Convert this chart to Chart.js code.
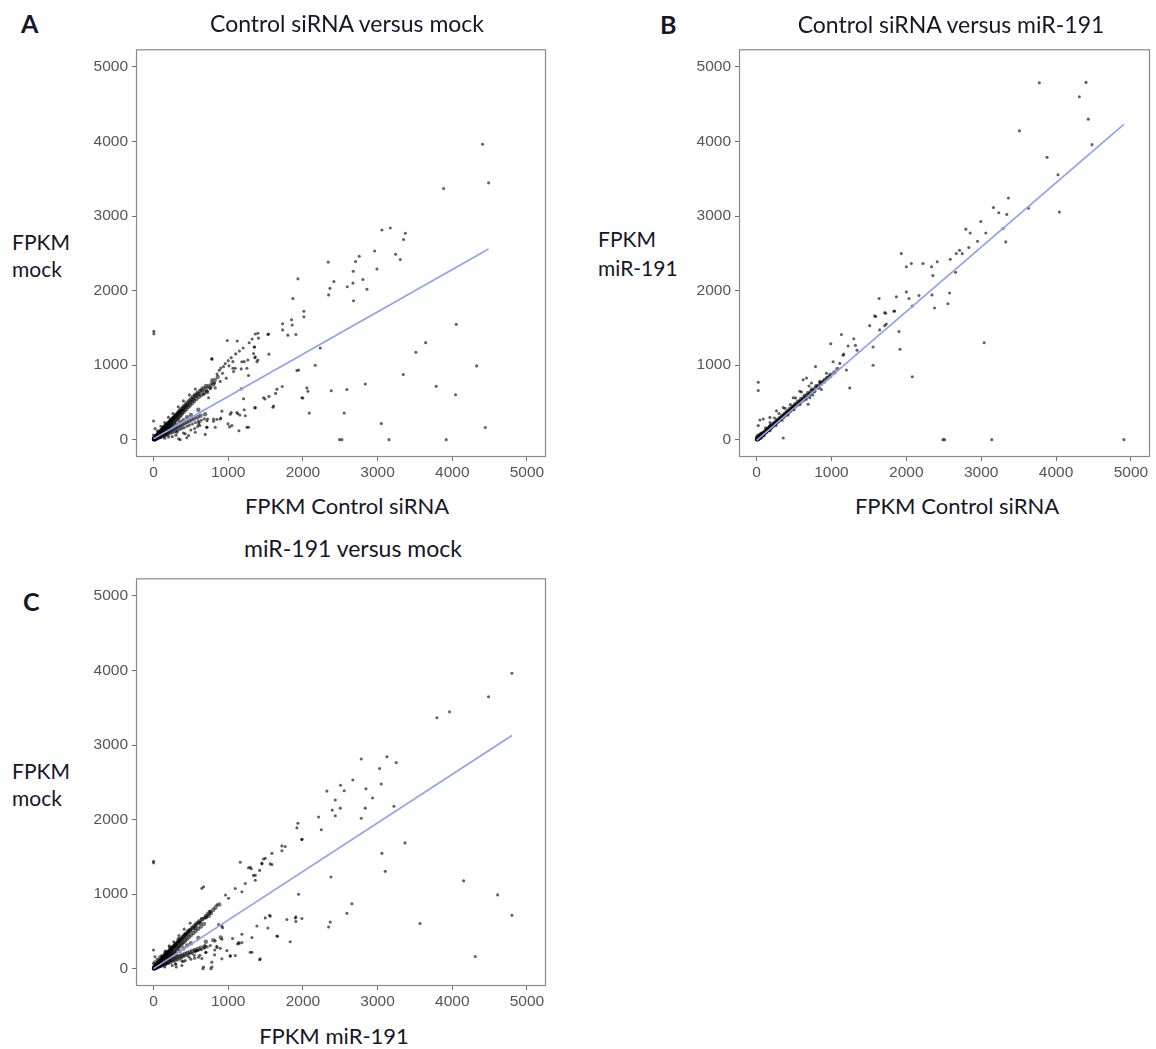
<!DOCTYPE html>
<html>
<head>
<meta charset="utf-8">
<script src="https://cdn.jsdelivr.net/npm/chart.js@4.4.0/dist/chart.umd.min.js"></script>
<style>
  html, body { margin:0; padding:0; background:#fff; }
  #root { position:relative; width:1156px; height:1049px; overflow:hidden; background:#fff; }
  canvas { position:absolute; }
  .t { position:absolute; font-family:Lato, "Open Sans", sans-serif; color:#161628; white-space:nowrap; line-height:1; }
</style>
</head>
<body>
<div id="root">
  <canvas id="cA" width="474" height="456" style="left:76px;top:36px;"></canvas>
  <canvas id="cB" width="475" height="456" style="left:679px;top:36px;"></canvas>
  <canvas id="cC" width="474" height="456" style="left:76px;top:565px;"></canvas>
</div>
<script>
// ---------------- DATA ----------------
const tickValues = [0, 1000, 2000, 3000, 4000, 5000];

const panelTitles = ["Control siRNA versus mock", "Control siRNA versus miR-191", "miR-191 versus mock"];
const panelLetters = ["A", "B", "C"];
const xTitles = ["FPKM Control siRNA", "FPKM Control siRNA", "FPKM miR-191"];
const yTitles = [["FPKM", "mock"], ["FPKM", "miR-191"], ["FPKM", "mock"]];

// Panel A: FPKM Control siRNA (x) vs FPKM mock (y)
const pointsA = [
  [4406,3963],[4486,3445],[3884,3370],[3058,2812],[3170,2839],[3371,2768],[3348,2685],[2960,2531],[3241,2487],[3303,2417],
  [2754,2461],[2705,2390],[2674,2259],[2991,2289],[2339,2382],[1933,2157],[2415,2122],[2362,2030],[2344,1942],[2594,2052],
  [2670,2100],[2803,2149],[2857,2017],[2678,1863],[1866,1894],[2013,1722],[2013,1648],[1848,1608],[1857,1538],[1728,1555],
  [1728,1472],[1799,1402],[1906,1410],[1397,1428],[1531,1410],[1406,1362],[2232,1230],[1545,1147],[987,1331],[1121,1323],
  [1353,1243],[1339,1156],[1357,1099],[1397,1068],[1214,1046],[1263,1068],[781,1077],[1062,1046],[1062,958],[1174,949],
  [1272,861],[4,1454],[4,1419],[4053,1547],[3643,1301],[3513,1173],[4326,989],[3344,874],[3785,716],[4044,602],
  [4442,163],[3919,0],[3152,0],[2522,0],[2491,0],[3049,215],[2553,356],[2085,356],[2835,747],[2589,672],
  [2379,655],[2165,997],[1920,927],[2053,694],[2067,650],[2000,558],[1723,712],[1652,677],[1634,620],[1545,580],
  [1491,545],[1598,435],[1357,426],[1205,549],[1174,681],[1214,400],[1272,167],[1143,119],[1040,365],[1129,347],
  [1156,330],[996,211],[1018,171],[915,382],[902,290],[848,272],[804,246],[723,277],[714,167],[692,70],
  [589,176],[612,233],[446,26],[357,0],
  [924,891],[973,825],[893,781],[817,759],[759,685],[826,694],[714,650],[670,606],[737,562],[937,979],
  [781,803],[1094,957],[1072,913],[1250,957],[1183,1045],[1384,1045],[1362,1111],[781,1089],[1540,1418],[1362,1418],
  [1348,1242],[850,880],[880,930],[960,1020],[1000,1060],[1040,1100],[1100,1150],[1150,1190],[1200,1230],[1280,1300],
  [1320,1350],[1010,990],[900,960],
  [1473,562],[1607,452],[1942,935],[1987,562],[1362,430],[1228,320],[1116,364],[1027,342],[893,276],[803,276],
  [1049,188],[1250,166],[826,166],[714,254],[714,166],[603,210],[558,100],[469,56],[424,78],[335,12],[313,100],[201,35],[157,78],
  [40,10],[60,18],[80,22],[100,30],[120,40],[140,45],[160,55],[180,62],[200,70],[230,85],[260,95],[290,110],[320,120],
  [350,135],[380,150],[410,160],[450,180],[480,195],[520,210],[560,230],[600,250],[640,260],[680,280],[150,20],[250,40],
  [300,60],[400,90],[500,130],[550,150],[620,190],
  [100,180],[150,230],[200,300],[260,350],[330,440],[400,520],[480,600],[560,680],[0,250],[20,150],[50,120],[0,60],
  [0,20],[0,0],[3,1],[2,5],[10,0],[20,2]
];
const coreA = [
  [5,3],[8,12],[12,6],[15,20],[18,10],[22,25],[25,15],[30,32],[33,22],[38,40],[40,28],[45,50],[48,35],[52,58],[55,42],
  [60,65],[62,48],[68,72],[70,55],[75,82],[78,60],[85,92],[88,70],[92,100],[95,78],[102,110],[105,85],[112,122],[115,95],
  [120,130],[125,105],[132,145],[135,112],[140,150],[148,120],[152,168],[158,135],[165,178],[170,142],[178,195],[182,150],
  [190,205],[196,165],[205,222],[210,175],[218,240],[225,190],[232,255],[238,200],[245,268],[252,215],[260,285],[268,230],
  [275,300],[282,240],[290,318],[298,262],[305,335],[315,280],[322,352],[330,295],[338,372],[348,310],[355,390],[365,330],
  [372,408],[382,350],[392,430],[400,372],[410,450],[420,395],[430,472],[442,415],[452,495],[465,440],[478,522],[490,462],
  [505,548],[518,492],[530,575],[545,520],[560,602],[575,548],[590,630],[608,575],[625,655],[640,600],[660,690],[680,630],[700,720],
  [10,18],[14,4],[20,30],[26,8],[28,40],[35,14],[36,48],[42,20],[46,60],[50,25],[56,70],[58,30],[64,80],[66,36],[72,90],
  [76,42],[82,100],[86,46],[90,112],[96,52],[104,122],[108,58],[116,138],[118,64],[126,150],[130,70],[138,162],[144,78],
  [150,178],[156,84],[162,190],[168,92],[176,208],[186,100],[194,222],[202,110],[212,238],[222,118],[230,258],[242,128],
  [250,276],[264,140],[272,292],[288,150],[296,314],[310,160],[320,340],[336,175],[344,360],[360,190],[370,386],[388,200],
  [398,410],[418,220],[426,440],[446,236],[458,470],[480,250],[490,505],[512,268],[526,540],[548,285],[560,585],[590,300],
  [600,612],[630,320],[645,660],[690,340],[700,680],[740,720],[780,760],[820,800],[860,840],[760,700],[800,740],[720,640],
  [200,150],[300,200],[400,260],[500,330],[600,400],[250,180],[350,240],[450,300]
];
const fitA = [[0,13],[4486,2557]];

// Panel B: FPKM Control siRNA (x) vs FPKM miR-191 (y)
const pointsB = [
  [3777,4788],[4400,4793],[4311,4600],[4431,4300],[4480,3958],[3511,4143],[3880,3787],[4027,3554],[4044,3053],[3631,3105],
  [3364,3242],[3164,3114],[3235,3044],[3342,3022],[3293,2833],[3328,2653],[2995,2926],[3062,2772],[2951,2662],[2795,2824],
  [2853,2772],[2835,2578],[2747,2495],[3040,1300],[3141,0],[4906,0],
  [1933,2496],[2000,2320],[2067,2364],[2222,2364],[2338,2320],[2413,2386],[2355,2201],[2587,2421],[2667,2496],[2658,2245],
  [2711,2540],[2000,1982],[2036,1894],[2080,1793],[2169,1933],[2342,1942],[2377,1766],[2555,1823],[2578,1968],[1636,1894],
  [1867,1916],[1724,1696],[1835,1722],[1591,1652],[1511,1529],[1644,1472],[1711,1529],[1902,1450],[1916,1213],[2080,844],
  [1556,1243],[1556,997],[1133,1410],[991,1287],[1164,1147],[1298,1353],[1320,1265],[1342,1200],[1222,1257],[1244,694],
  [787,980],[667,826],[22,769],[22,659],[356,22],[44,264],[2489,0],[2511,0],
  [1577,1660],[1711,1704],[1844,1726],[1733,1550],[622,804],[733,760],[933,891],[1022,1045],[1155,1133],[1111,1023],
  [1200,935],[844,781],[866,672],[711,562],[689,474],[577,650],[489,562],[355,430],[266,386],[178,298],[89,276],[22,188],[178,188],
  [60,90],[120,160],[180,230],[240,290],[300,350],[380,420],[450,470],[520,560],[600,640],[700,720],[100,50],[180,120],
  [260,190],[340,260],[420,330],[500,400],[580,470],[660,540],[750,600],[40,70],[30,5],[0,0],[2,1],[0,10],[8,0],[0,40],[15,60],[60,20]
];
const coreB = [
  [5,4],[10,6],[14,14],[18,12],[24,20],[28,26],[34,28],[40,36],[45,38],[52,46],[58,50],[64,58],[70,60],[78,70],[85,72],
  [92,82],[100,86],[108,96],[115,98],[124,110],[132,112],[140,126],[150,128],[160,142],[170,146],[180,160],[190,162],
  [200,180],[212,184],[225,200],[238,206],[250,222],[262,228],[275,246],[290,250],[305,272],[320,278],[335,300],[350,305],
  [365,325],[380,330],[395,352],[410,358],[428,380],[445,385],[462,412],[480,418],[498,444],[515,450],[535,476],[555,482],
  [575,512],[598,520],[620,548],[645,560],[670,596],[700,605],[730,650],[760,660],[790,700],[820,712],[850,760],[880,770],
  [910,800],[950,830],[990,870],[1040,900],[1080,950],
  [8,10],[12,4],[20,16],[26,18],[30,30],[38,28],[44,44],[50,40],[56,56],[62,50],[68,68],[74,62],[82,80],[88,74],[96,94],
  [104,88],[112,108],[120,100],[128,122],[136,116],[146,140],[156,134],[166,156],[176,150],[186,176],[196,170],[208,196],
  [220,190],[232,218],[244,212],[258,240],[270,234],[284,266],[298,258],[312,290],[326,282],[342,318],[358,308],[374,346],
  [390,336],[406,376],[422,364],[440,408],[458,396],[476,440],[494,428],[514,474],[532,460],[552,508],[572,494],[594,546],
  [616,530],[640,586],[662,570],[688,628],[712,612],[740,672],[770,650],[800,720],[830,700],[860,745],[900,780],[940,820],[980,850]
];
const fitB = [[0,-10],[4906,4231]];

// Panel C: FPKM miR-191 (x) vs FPKM mock (y)
const pointsC = [
  [4799,3963],[4486,3647],[3964,3445],[3794,3366],[2781,2812],[3125,2843],[3250,2764],[3027,2685],[3049,2478],[2669,2531],
  [2504,2461],[2553,2386],[2321,2382],[2844,2413],[2933,2289],[2433,2263],[2393,2127],[2500,2153],[2433,2052],[2835,2153],
  [2781,2017],[3219,2179],[2210,2034],[2246,1863],[1933,1951],[1920,1889],[1987,1731],[3366,1687],[3058,1547],[3103,1305],
  [1763,1639],[1719,1582],[1585,1547],[1496,1481],[1585,1397],[1451,1415],[1161,1428],[1272,1353],[1308,1340],[1362,1252],
  [1362,1186],[1420,1318],[2375,1230],[4152,1178],[4607,989],[4799,716],[4308,163],[3567,606],[2589,743],[2656,870],
  [2344,558],[2366,624],[1942,997],[1786,659],[1906,694],[1906,633],[1987,672],[1830,360],[1661,435],[1496,681],
  [1554,716],[1531,545],[1384,571],[1420,119],[1317,417],[1317,220],[1183,461],[1147,338],[1125,330],[1058,404],
  [1094,176],[1027,167],[982,242],[893,272],[848,299],[924,549],[871,593],[826,373],[817,185],[768,0],
  [661,0],[647,136],[701,220],[580,242],[545,176],[478,154],[379,101],[304,22],[0,1441],[0,1419],[0,250],[647,1077],
  [964,988],[1005,944],[848,856],[759,768],[692,680],[670,1098],[1094,1076],[1183,1032],[1228,1142],[1294,1361],[1339,1251],
  [1451,1405],[1562,1405],[1473,1471],[1719,1647],[1987,1735],
  [1562,702],[1898,680],[1651,438],[915,570],[915,394],[848,284],[692,306],[558,240],[603,152],[781,87],[915,131],
  [1027,175],[1294,219],[1428,131],[670,21],[781,21],[424,109],[290,65],[380,43],[1139,350],[1183,350],
  [40,12],[60,16],[80,25],[100,28],[120,38],[140,48],[160,52],[180,65],[200,68],[230,80],[260,98],[290,105],[320,115],
  [350,130],[380,145],[410,165],[450,175],[480,200],[520,205],[560,225],[600,245],[640,255],[680,275],[720,290],[760,310],
  [150,22],[250,42],[300,58],[400,95],[500,125],[550,140],[620,180],[700,215],[820,250],
  [110,175],[160,235],[210,305],[270,360],[340,445],[410,530],[490,610],[20,160],[50,125],[0,70],[0,25],[0,0],[2,4],[8,0],[18,3]
];
const coreC = [
  [625,614],[558,548],[469,504],[424,460],[335,394],[290,328],[223,284],[157,218],[89,152],[23,87],
  [4,2],[9,10],[13,5],[16,19],[20,9],[24,27],[27,14],[32,35],[35,21],[40,44],[43,30],[47,52],[50,34],[55,62],[58,44],
  [63,70],[66,50],[71,78],[74,57],[80,88],[83,62],[90,98],[93,72],[98,106],[101,80],[108,118],[111,88],[118,128],[122,96],
  [128,140],[131,108],[138,152],[142,115],[148,162],[154,124],[160,176],[165,136],[172,188],[178,146],[185,202],[190,155],
  [198,218],[204,168],[212,232],[218,178],[226,248],[232,192],[240,262],[246,205],[255,280],[262,220],[270,296],[278,232],
  [286,312],[294,250],[302,330],[312,268],[320,348],[328,284],[336,366],[345,300],[354,385],[364,318],[372,404],[382,335],
  [392,425],[402,355],[412,446],[424,378],[436,470],[448,400],[460,492],[474,425],[488,518],[502,450],[516,545],[532,478],
  [548,574],[564,505],[580,605],[598,535],[616,636],[634,566],[654,668],[675,600],[700,700],[725,730],[750,760],
  [12,20],[15,5],[22,32],[28,9],[30,42],[37,15],[38,50],[44,20],[48,63],[52,26],[58,72],[60,30],[66,84],[68,38],[74,94],
  [78,40],[84,104],[88,45],[93,116],[98,50],[106,126],[110,56],[118,140],[122,62],[128,154],[134,68],[140,166],[146,74],
  [153,182],[158,82],[165,195],[172,88],[180,212],[188,96],[196,228],[205,104],[215,242],[225,112],[234,262],[244,122],
  [254,280],[266,132],[276,298],[290,142],[300,320],[312,152],[324,346],[338,162],[348,368],[364,172],[374,392],[390,184],
  [402,418],[420,198],[430,448],[450,210],[462,478],[484,222],[494,512],[516,236],[530,548],[552,250],[566,590],[592,264],
  [604,620],[632,280],[650,664],[680,296],[700,690],[740,710],[770,745],[800,790],[830,820],[880,860],
  [200,150],[300,200],[400,270],[500,340],[600,410],[250,175],[350,235],[450,310],[700,360],[800,380],[900,420]
];
const fitC = [[0,0],[4799,3129]];

// ---------------- DRAWING ----------------
const boxPlugin = {
  id: 'panelBox',
  afterDatasetsDraw(chart) {
    const { ctx, chartArea: a } = chart;
    ctx.save();
    ctx.strokeStyle = '#8a8a8a';
    ctx.lineWidth = 1.2;
    ctx.strokeRect(a.left + 0.5, a.top + 0.5, a.right - a.left - 1, a.bottom - a.top - 1);
    ctx.restore();
  }
};

function axisCommon(extra) {
  return Object.assign({
    type: 'linear',
    afterBuildTicks: s => { s.ticks = tickValues.map(v => ({ value: v })); },
    grid: { display: true, drawOnChartArea: false, drawTicks: true, tickLength: 4, color: '#6e6e6e', lineWidth: 1 },
    border: { display: false },
    ticks: {
      autoSkip: false, maxRotation: 0, color: '#555555',
      font: { family: 'Liberation Sans', size: 15.5 },
      callback: v => String(v)
    }
  }, extra);
}

function makeChart(id, pts, core, fit) {
  const x = axisCommon({ min: -235, max: 5255, afterFit: s => { s.height = 35; } });
  x.ticks.padding = 2;
  const y = axisCommon({ min: -233, max: 5237, afterFit: s => { s.width = 60; } });
  y.ticks = Object.assign({}, y.ticks, { padding: 4 });
  const toXY = p => ({ x: p[0], y: p[1] });
  new Chart(document.getElementById(id), {
    type: 'scatter',
    data: {
      datasets: [
        { type: 'line', data: fit.map(toXY), borderColor: '#8ea2ee', borderWidth: 1.7,
          pointRadius: 0, fill: false, order: 0, tension: 0 },
        { type: 'scatter', data: pts.map(toXY), backgroundColor: 'rgba(0,0,0,0.62)',
          borderWidth: 0, pointRadius: 1.55, order: 1 },
        { type: 'scatter', data: core.map(toXY), backgroundColor: 'rgba(0,0,0,0.55)',
          borderWidth: 0, pointRadius: 2.2, order: 2 }
      ]
    },
    options: {
      responsive: false, animation: false, devicePixelRatio: 1,
      layout: { padding: { top: 6, right: 4, left: 0, bottom: 0 } },
      plugins: { legend: { display: false }, tooltip: { enabled: false }, title: { display: false } },
      scales: { x: x, y: y }
    },
    plugins: [boxPlugin]
  });
}

makeChart('cA', pointsA, coreA, fitA);
makeChart('cB', pointsB, coreB, fitB);
makeChart('cC', pointsC, coreC, fitC);

// ---------------- TEXT ----------------
const root = document.getElementById('root');
function addText(txt, size, baseline, opts) {
  const d = document.createElement('div');
  d.className = 't';
  d.textContent = txt;
  d.style.fontSize = size + 'px';
  d.style.top = (baseline - 0.887 * size) + 'px';
  if (opts.weight) d.style.fontWeight = opts.weight;
  if (opts.center !== undefined) {
    d.style.left = opts.center + 'px';
    d.style.transform = 'translateX(-50%)';
  } else {
    d.style.left = opts.left + 'px';
  }
  root.appendChild(d);
}
// panel letters
addText(panelLetters[0], 25, 33, { left: 21, weight: 700 });
addText(panelLetters[1], 25, 34, { left: 660, weight: 700 });
addText(panelLetters[2], 25, 611, { left: 23, weight: 700 });
// titles
addText(panelTitles[0], 23, 32, { center: 347 });
addText(panelTitles[1], 23, 33, { center: 951 });
addText(panelTitles[2], 23, 557, { center: 353 });
// x titles
addText(xTitles[0], 22, 515, { center: 347 });
addText(xTitles[1], 22, 515, { center: 957 });
addText(xTitles[2], 22, 1045, { center: 334 });
// y titles
addText(yTitles[0][0], 21, 250, { left: 12 });
addText(yTitles[0][1], 21, 277, { left: 12 });
addText(yTitles[1][0], 21, 247, { left: 598 });
addText(yTitles[1][1], 21, 276, { left: 598 });
addText(yTitles[2][0], 21, 779, { left: 12 });
addText(yTitles[2][1], 21, 806, { left: 12 });
</script>
</body>
</html>
